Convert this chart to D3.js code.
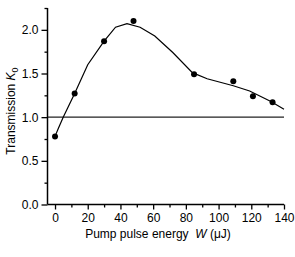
<!DOCTYPE html>
<html>
<head>
<meta charset="utf-8">
<script src="https://cdn.jsdelivr.net/npm/d3@7"></script>
<style>
  body { margin: 0; background: #fff; }
  svg text { font-family: "Liberation Sans", Arial, sans-serif; fill: #000; }
</style>
</head>
<body>
<div id="chart"></div>
<script>
// measured points
const energy = [0, 12, 30, 48, 85, 109, 121, 133];
const transmission = [0.78, 1.27, 1.87, 2.10, 1.49, 1.41, 1.24, 1.17];

// model curve
const fitEnergy = [0, 2, 5, 12, 20, 30, 37, 44, 52, 61, 72, 84, 93, 109, 119, 132, 140];
const fitTrans = [0.78, 0.87, 1.0, 1.27, 1.6, 1.87, 2.03, 2.07, 2.03, 1.93, 1.74, 1.51, 1.44, 1.36, 1.30, 1.18, 1.09];

const xTicks = [0, 20, 40, 60, 80, 100, 120, 140];
const yTicks = [0, 0.5, 1.0, 1.5, 2.0];

const width = 295, height = 257;

const svg = d3.select("#chart").append("svg")
    .attr("width", width)
    .attr("height", height);

const xScale = d3.scaleLinear().domain([-4.6, 140]).range([47.5, 284]);
const yScale = d3.scaleLinear().domain([0, 2.25]).range([204.5, 8]);

// reference line at K0 = 1
svg.append("line")
    .attr("x1", xScale(-4.6)).attr("x2", xScale(140))
    .attr("y1", yScale(1)).attr("y2", yScale(1))
    .attr("stroke", "#222").attr("stroke-width", 1.2);

// x axis: minor then major ticks
const xAxisG = svg.append("g").attr("transform", `translate(0,${yScale(0)})`);
xAxisG.append("g")
    .call(d3.axisBottom(xScale).tickValues(d3.range(10, 140, 20)).tickSize(3).tickFormat(""))
    .call(g => g.select(".domain").remove());
xAxisG.append("g")
    .call(d3.axisBottom(xScale).tickValues(xTicks).tickSize(5).tickPadding(4))
    .call(g => g.selectAll("text").attr("font-size", 12));
xAxisG.selectAll("line").attr("stroke", "#000").attr("stroke-width", 1.3);
xAxisG.selectAll(".domain").attr("stroke", "#000").attr("stroke-width", 1.5)
    .attr("d", `M${xScale(-4.6)},0H${xScale(140)}`);

// y axis
const yAxisG = svg.append("g").attr("transform", `translate(${xScale(-4.6)},0)`);
yAxisG.append("g")
    .call(d3.axisLeft(yScale).tickValues([0.25, 0.75, 1.25, 1.75, 2.25]).tickSize(3).tickFormat(""))
    .call(g => g.select(".domain").remove());
yAxisG.append("g")
    .call(d3.axisLeft(yScale).tickValues(yTicks).tickSize(6).tickPadding(3).tickFormat(d3.format(".1f")))
    .call(g => g.selectAll("text").attr("font-size", 12));
yAxisG.selectAll("line").attr("stroke", "#000").attr("stroke-width", 1.3);
yAxisG.selectAll(".domain").attr("stroke", "#000").attr("stroke-width", 1.5)
    .attr("d", `M0,${yScale(0)}V${yScale(2.25)}`);

// model curve
const line = d3.line()
    .x((d, i) => xScale(fitEnergy[i]))
    .y(d => yScale(d));
svg.append("path")
    .datum(fitTrans)
    .attr("d", line)
    .attr("fill", "none")
    .attr("stroke", "#000")
    .attr("stroke-width", 1.2);

// data points
svg.selectAll("circle.pt")
    .data(transmission)
    .enter().append("circle")
    .attr("class", "pt")
    .attr("cx", (d, i) => xScale(energy[i]))
    .attr("cy", d => yScale(d))
    .attr("r", 3)
    .attr("fill", "#000");

// axis titles
const xt = svg.append("text")
    .attr("x", 158).attr("y", 238)
    .attr("text-anchor", "middle")
    .attr("font-size", 12);
xt.append("tspan").text("Pump pulse energy\u00a0\u00a0");
xt.append("tspan").attr("font-style", "italic").text("W");
xt.append("tspan").text("\u00a0(\u03bcJ)");

const yt = svg.append("text")
    .attr("transform", "translate(15,111) rotate(-90)")
    .attr("text-anchor", "middle")
    .attr("font-size", 12);
yt.append("tspan").text("Transmission ");
yt.append("tspan").attr("font-style", "italic").text("K");
yt.append("tspan").attr("font-size", 9).attr("dy", 3).text("0");
</script>
</body>
</html>
